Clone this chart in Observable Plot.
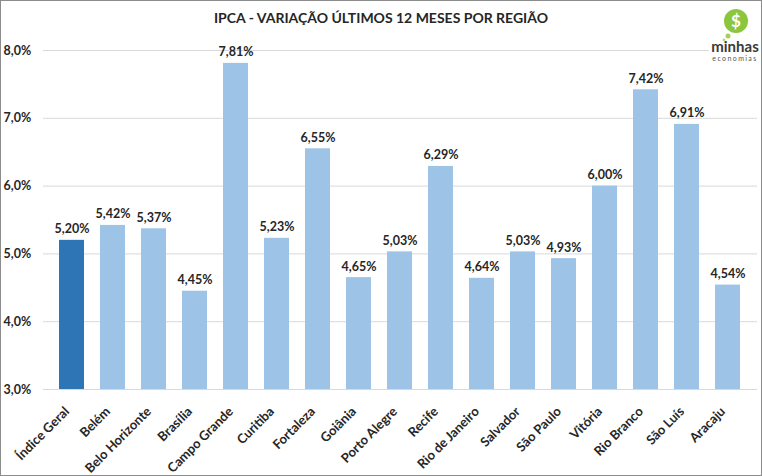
<!DOCTYPE html>
<html><head><meta charset="utf-8">
<script src="https://cdn.jsdelivr.net/npm/d3@7"></script>
<script src="https://cdn.jsdelivr.net/npm/@observablehq/plot@0.6"></script>
<style>
body{margin:0;background:#fff;font-family:Lato,"Noto Sans",sans-serif;}
#frame{position:relative;width:760px;height:474px;border:1px solid #8c8c8c;background:#fff;overflow:hidden;}
#title{height:30px;line-height:34px;text-align:center;font-weight:bold;font-size:14px;color:#262626;}
#logo{position:absolute;right:2px;top:4px;width:50px;height:60px;background:#fff;text-align:center;}
</style></head>
<body>
<div id="frame">
<div id="title">IPCA - VARIAÇÃO ÚLTIMOS 12 MESES POR REGIÃO</div>
<div id="chart"></div>
<div id="logo">
<svg width="50" height="60" viewBox="0 0 50 60">
<ellipse cx="27" cy="16" rx="12" ry="12" fill="#8cc63f"/>
<circle cx="19" cy="31" r="2.5" fill="#a6d05a"/>
<circle cx="15" cy="35" r="1.4" fill="#b8da78"/>
<text x="27" y="22" text-anchor="middle" font-size="17" font-weight="bold" fill="#fff" font-family="Lato">$</text>
<text x="26" y="47" text-anchor="middle" font-size="15" font-weight="bold" fill="#3a3a3a" font-family="Lato">minhas</text>
<text x="26" y="56" text-anchor="middle" font-size="7" letter-spacing="1.4" fill="#555" font-family="Lato">economias</text>
</svg>
</div>
</div>
<script>
const regions = ["Índice Geral","Belém","Belo Horizonte","Brasília","Campo Grande","Curitiba","Fortaleza","Goiânia","Porto Alegre","Recife","Rio de Janeiro","Salvador","São Paulo","Vitória","Rio Branco","São Luís","Aracaju"];
const values = [5.20,5.42,5.37,4.45,7.81,5.23,6.55,4.65,5.03,6.29,4.64,5.03,4.93,6.00,7.42,6.91,4.54];
const yTicks = [3,4,5,6,7,8];

const data = regions.map((r,i)=>({region:r, value:values[i], total:i===0}));
const fmt = v => v.toFixed(2).replace(".", ",") + "%";
const fmtTick = v => v.toFixed(1).replace(".", ",") + "%";

const chart = Plot.plot({
  width: 760,
  height: 444,
  marginTop: 19,
  marginBottom: 86,
  marginLeft: 42,
  marginRight: 4,
  style: {fontFamily: "Lato, sans-serif", fontSize: "12px", color: "#262626", background: "transparent"},
  x: {domain: regions, padding: 0.38, label: null, axis: null},
  y: {domain: [3,8], ticks: yTicks, label: null, axis: null},
  marks: [
    Plot.gridY(yTicks.filter(t=>t>3), {stroke: "#d9d9d9", strokeOpacity: 1}),
    Plot.barY(data, {x: "region", y1: 3, y2: "value", fill: d => d.total ? "#2e75b6" : "#9dc3e6"}),
    Plot.ruleY([3], {stroke: "#d9d9d9"}),
    Plot.text(data, {x: "region", y: "value", text: d => fmt(d.value), dy: -11, fontWeight: "bold", fontSize: 12.5, fill: "#262626"}),
    Plot.text(yTicks, {y: d => d, text: d => fmtTick(d), frameAnchor: "left", textAnchor: "start", dx: -40, fontWeight: "bold", fontSize: 12.5, fill: "#262626"}),
    Plot.axisX({tickSize: 0, tickRotate: -45, textAnchor: "end", dx: -5, dy: 8, fontWeight: "bold", fontSize: 13, fill: "#262626"})
  ]
});
document.getElementById("chart").appendChild(chart);
</script>
</body></html>
